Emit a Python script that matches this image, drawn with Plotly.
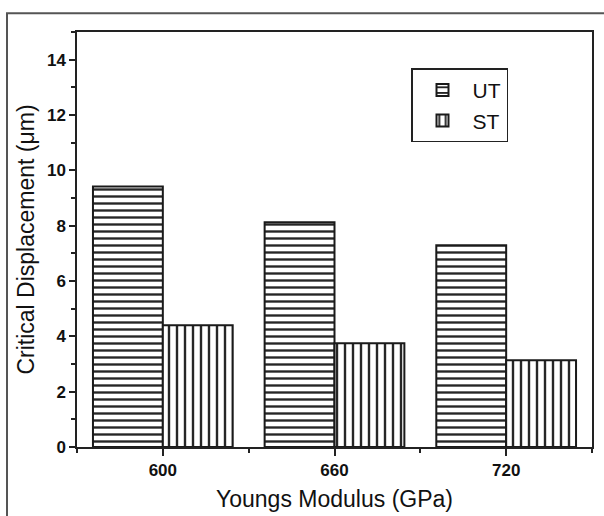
import plotly.graph_objects as go

categories = ["600", "660", "720"]
ut_values = [9.42, 8.12, 7.29]
st_values = [4.40, 3.75, 3.14]
y_ticks = [0, 2, 4, 6, 8, 10, 12, 14]

xpos = list(range(len(categories)))

fig = go.Figure()
fig.add_trace(go.Bar(
    x=xpos, y=ut_values, name="UT",
    marker=dict(color="white", line=dict(color="#1a1a1a", width=2),
                pattern=dict(shape="-", size=7, solidity=0.34, fgcolor="#262626", bgcolor="white", fillmode="replace")),
))
fig.add_trace(go.Bar(
    x=xpos, y=st_values, name="ST",
    marker=dict(color="white", line=dict(color="#1a1a1a", width=2),
                pattern=dict(shape="|", size=8, solidity=0.3, fgcolor="#262626", bgcolor="white", fillmode="replace")),
))

L, R, T, B = 77, 592, 31.5, 447
W, H = 604, 516
pw, ph = R - L, B - T

def px_x(p):
    return (p - L) / pw

def px_y(p):
    return (B - p) / ph

fig.add_shape(type="rect", xref="paper", yref="paper",
              x0=px_x(7), x1=px_x(612), y0=px_y(524), y1=px_y(12.7),
              line=dict(color="#555", width=2), fillcolor="rgba(0,0,0,0)", layer="below")

axis_font = dict(family="Liberation Sans, Arial, sans-serif", size=17, color="#111", weight="bold")
title_font = dict(family="Liberation Sans, Arial, sans-serif", size=23, color="#111")

fig.update_layout(
    width=W, height=H,
    margin=dict(l=L, r=W - R, t=T, b=H - B, pad=0, autoexpand=False),
    paper_bgcolor="white", plot_bgcolor="white",
    barmode="group", bargap=0.186, bargroupgap=0,
    showlegend=True,
    legend=dict(x=px_x(411), y=px_y(68), xanchor="left", yanchor="top",
                bgcolor="white", bordercolor="#222", borderwidth=1.5,
                font=dict(family="Liberation Sans, Arial, sans-serif", size=21, color="#111"),
                itemwidth=50, tracegroupgap=0),
    xaxis=dict(
        range=[-0.5, 2.5], tickmode="array", tickvals=xpos, ticktext=categories,
        ticks="outside", ticklen=7, tickwidth=1.5, tickcolor="#222",
        showline=True, linecolor="#222", linewidth=1.5, mirror=True,
        showgrid=False, zeroline=False, automargin=False,
        tickfont=axis_font,
        minor=dict(tickmode="linear", tick0=0.5, dtick=1, ticks="outside", ticklen=4, tickwidth=1.5, tickcolor="#222", showgrid=False),
        title=dict(text="Youngs Modulus (GPa)", font=title_font, standoff=12),
    ),
    yaxis=dict(
        range=[0, 15], tickmode="array", tickvals=y_ticks,
        ticks="outside", ticklen=6, tickwidth=1.5, tickcolor="#222",
        showline=True, linecolor="#222", linewidth=1.5, mirror=True,
        showgrid=False, zeroline=False, automargin=False,
        tickfont=axis_font,
        minor=dict(tickmode="linear", tick0=1, dtick=2, ticks="outside", ticklen=4, tickwidth=1.5, tickcolor="#222", showgrid=False),
        title=dict(text="Critical Displacement (μm)", font=title_font, standoff=6),
    ),
)

fig.write_html("out.html", config={"displayModeBar": False},
               post_script="document.body.style.margin='0';document.body.style.overflow='hidden';")
